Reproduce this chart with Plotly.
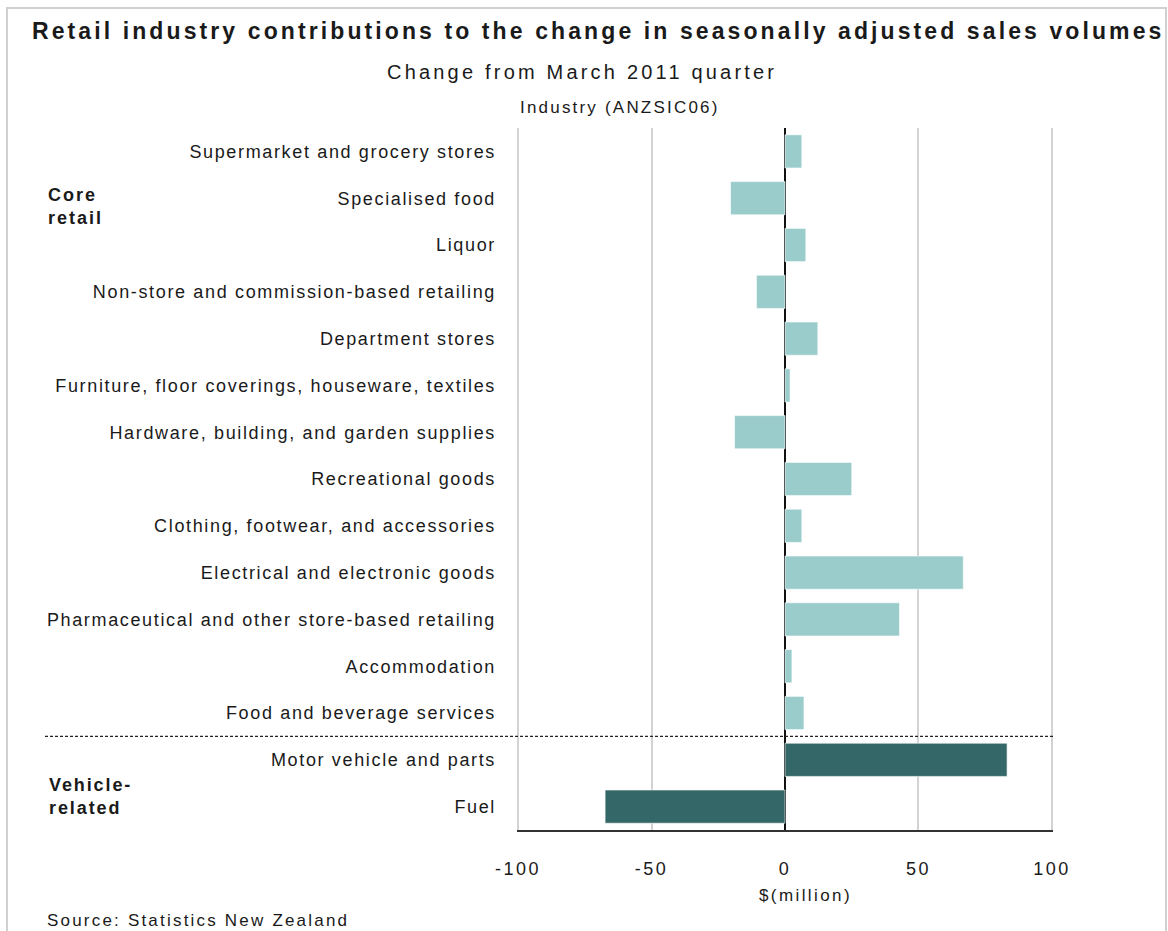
import plotly.graph_objects as go

# Contributions to the change in seasonally adjusted retail sales volumes ($ million)
industries = [
    "Supermarket and grocery stores",
    "Specialised food",
    "Liquor",
    "Non-store and commission-based retailing",
    "Department stores",
    "Furniture, floor coverings, houseware, textiles",
    "Hardware, building, and garden supplies",
    "Recreational goods",
    "Clothing, footwear, and accessories",
    "Electrical and electronic goods",
    "Pharmaceutical and other store-based retailing",
    "Accommodation",
    "Food and beverage services",
    "Motor vehicle and parts",
    "Fuel",
]
contributions = [6.3, -20.4, 7.8, -10.7, 12.3, 1.9, -18.9, 25.0, 6.3, 66.8, 42.9, 2.6, 7.1, 83.2, -67.4]
groups = ["Core retail"] * 13 + ["Vehicle-related"] * 2

x_tick_values = [-100, -50, 0, 50, 100]
x_tick_labels = ["-100", "-50", "0", "50", "100"]

group_colors = {"Core retail": "#9BCCCC", "Vehicle-related": "#346767"}
group_labels = {"Core retail": "Core<br>retail", "Vehicle-related": "Vehicle-<br>related"}

W, H = 1168, 931
L, R, T, B = 517, 1053, 128, 830
FONT = "Liberation Sans, Arial, sans-serif"
TEXT = "#1a1a1a"


def px(x):
    return (x - L) / (R - L)


def py(y):
    return (B - y) / (B - T)


def spaced(text, gap):
    """Wrap text in a span with extra letter spacing (px)."""
    return f'<span style="letter-spacing:{gap}px">{text}</span>'


fig = go.Figure(
    go.Bar(
        x=contributions,
        y=industries,
        orientation="h",
        width=0.71,
        marker=dict(color=[group_colors[g] for g in groups], line=dict(width=1, color="rgba(255,255,255,0.6)")),
        hoverinfo="x+y",
    )
)

# separator between core retail and vehicle-related industries
split = groups.index("Vehicle-related") - 0.5
fig.add_shape(
    type="line", xref="paper", yref="y", x0=px(45), x1=1, y0=split, y1=split,
    line=dict(color="#222", width=1.3, dash="3px,2px"),
)

# outer frame
fig.add_shape(
    type="rect", xref="paper", yref="paper", x0=px(7), x1=px(1166), y0=py(940), y1=py(8),
    line=dict(color="#d0d0d0", width=2), layer="below",
)

annotations = [
    dict(text="<b>" + spaced("Retail industry contributions to the change in seasonally adjusted sales volumes", 3.1) + "</b>",
         x=px(598), y=py(31), xanchor="center", yanchor="middle", font=dict(size=23)),
    dict(text=spaced("Change from March 2011 quarter", 3.2), x=px(582), y=py(72), xanchor="center",
         yanchor="middle", font=dict(size=20)),
    dict(text=spaced("Industry (ANZSIC06)", 2.2), x=px(518), y=py(107), xanchor="left", yanchor="middle",
         font=dict(size=17)),
    dict(text=spaced("$(million)", 2.4), x=px(805), y=py(895), xanchor="center", yanchor="middle",
         font=dict(size=17)),
    dict(text=spaced("Source: Statistics New Zealand", 2.2), x=px(45), y=py(920), xanchor="left",
         yanchor="middle", font=dict(size=17)),
    dict(text="<b>" + spaced(group_labels["Core retail"], 2) + "</b>", x=px(46), y=py(206), xanchor="left",
         yanchor="middle", align="left", font=dict(size=18)),
    dict(text="<b>" + spaced(group_labels["Vehicle-related"], 1.9) + "</b>", x=px(47), y=py(796),
         xanchor="left", yanchor="middle", align="left", font=dict(size=18)),
]
for a in annotations:
    a.update(xref="paper", yref="paper", showarrow=False)
    a["font"].update(family=FONT, color=TEXT)

fig.update_layout(
    width=W, height=H, autosize=False,
    margin=dict(l=L, r=W - R, t=T, b=H - B, pad=0),
    paper_bgcolor="white", plot_bgcolor="white",
    showlegend=False,
    font=dict(family=FONT, color=TEXT, size=16),
    annotations=annotations,
    bargap=0.29,
)
fig.update_xaxes(
    range=[-100.4, 100.4], tickvals=x_tick_values, ticktext=[spaced(t, 2.5) for t in x_tick_labels],
    showgrid=True, gridcolor="#d3d3d3", gridwidth=1.5,
    zeroline=True, zerolinecolor="#111", zerolinewidth=2,
    showline=True, linecolor="#333", linewidth=2,
    ticks="", ticklabelstandoff=21, tickfont=dict(size=18),
    fixedrange=True,
)
fig.update_yaxes(
    type="category", categoryorder="array", categoryarray=industries,
    tickvals=industries, ticktext=[spaced(s, 1.65) for s in industries],
    autorange="reversed", showgrid=False, zeroline=False, showline=False,
    ticks="", ticklabelstandoff=20, tickfont=dict(size=18),
    fixedrange=True,
)

fig.write_html("out.html")
